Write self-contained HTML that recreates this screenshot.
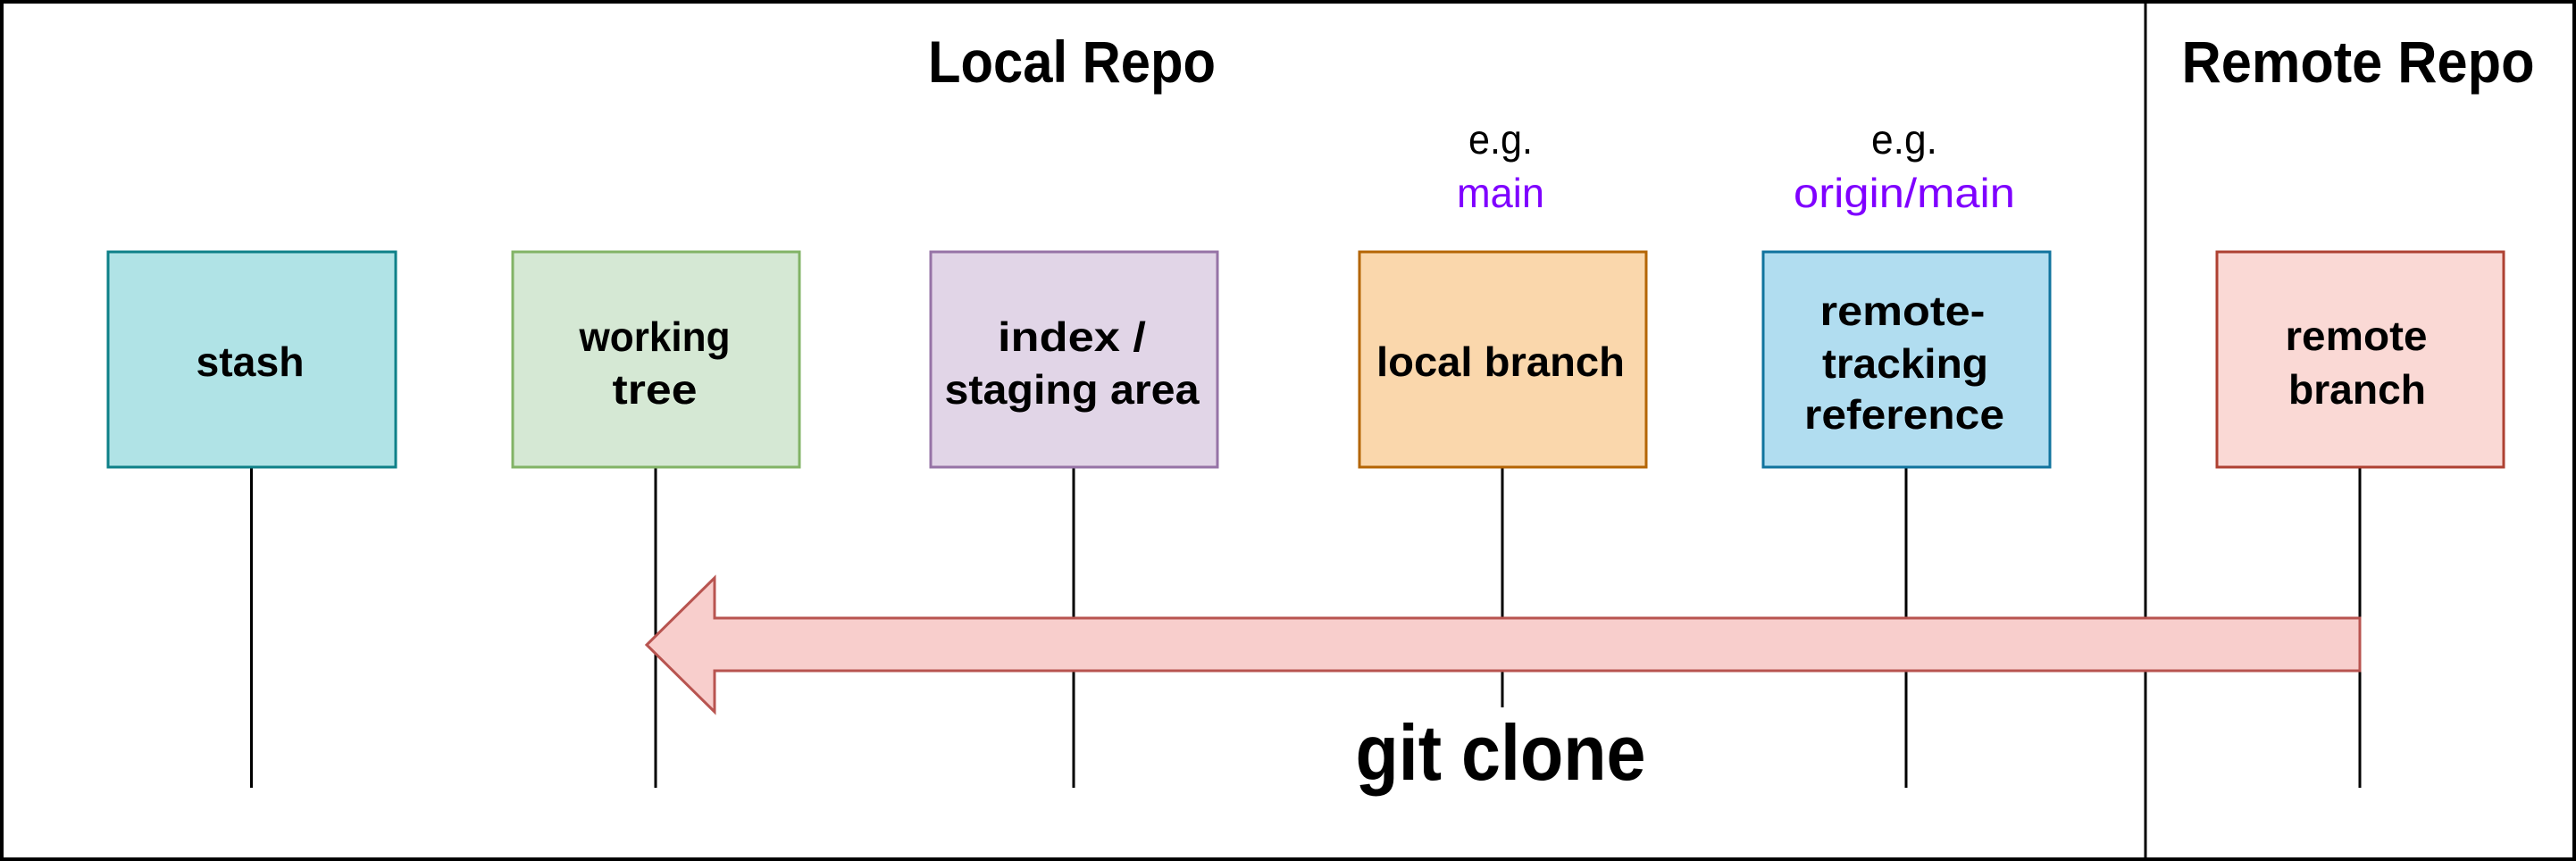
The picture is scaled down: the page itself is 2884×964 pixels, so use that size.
<!DOCTYPE html>
<html><head><meta charset="utf-8"><style>html,body{margin:0;padding:0;background:#fff}svg{display:block}</style></head>
<body>
<svg width="2884" height="964" viewBox="0 0 2884 964" xmlns="http://www.w3.org/2000/svg" font-family="'Liberation Sans', sans-serif" font-weight="bold">
<rect x="2" y="2" width="2880" height="960" fill="#fff" stroke="#000" stroke-width="4"/>
<line x1="2402" y1="0" x2="2402" y2="964" stroke="#000" stroke-width="3"/>
<g stroke="#000" stroke-width="3">
<line x1="281.5" y1="523" x2="281.5" y2="882"/>
<line x1="734" y1="523" x2="734" y2="882"/>
<line x1="1202" y1="523" x2="1202" y2="882"/>
<line x1="1682" y1="523" x2="1682" y2="792"/>
<line x1="2134" y1="523" x2="2134" y2="882"/>
<line x1="2642" y1="523" x2="2642" y2="882"/>
</g>
<rect x="121" y="282" width="322" height="241" fill="#b0e3e6" stroke="#0e8088" stroke-width="3"/>
<rect x="574" y="282" width="321" height="241" fill="#d5e8d4" stroke="#82b366" stroke-width="3"/>
<rect x="1042" y="282" width="321" height="241" fill="#e1d5e7" stroke="#9673a6" stroke-width="3"/>
<rect x="1522" y="282" width="321" height="241" fill="#fad7ac" stroke="#b46504" stroke-width="3"/>
<rect x="1974" y="282" width="321" height="241" fill="#b1ddf0" stroke="#10739e" stroke-width="3"/>
<rect x="2482" y="282" width="321" height="241" fill="#fad9d5" stroke="#ae4132" stroke-width="3"/>
<polygon points="2642,692 800,692 800,647 724,722 800,797 800,751 2642,751" fill="#f8cecc" stroke="#b85450" stroke-width="3"/>
<g font-size="46" text-anchor="middle" fill="#000">
<text x="280" y="421" textLength="121" lengthAdjust="spacingAndGlyphs">stash</text>
<text x="733" y="393" textLength="169" lengthAdjust="spacingAndGlyphs">working</text>
<text x="733" y="452" textLength="95" lengthAdjust="spacingAndGlyphs">tree</text>
<text x="1200" y="393" textLength="166" lengthAdjust="spacingAndGlyphs">index /</text>
<text x="1200" y="452" textLength="285" lengthAdjust="spacingAndGlyphs">staging area</text>
<text x="1680" y="421" textLength="278" lengthAdjust="spacingAndGlyphs">local branch</text>
<text x="2130" y="364" textLength="185" lengthAdjust="spacingAndGlyphs">remote-</text>
<text x="2133" y="423" textLength="186" lengthAdjust="spacingAndGlyphs">tracking</text>
<text x="2132" y="480" textLength="224" lengthAdjust="spacingAndGlyphs">reference</text>
<text x="2638" y="392" textLength="159" lengthAdjust="spacingAndGlyphs">remote</text>
<text x="2639" y="452" textLength="154" lengthAdjust="spacingAndGlyphs">branch</text>
</g>
<g font-size="46" text-anchor="middle" font-weight="normal">
<text x="1680" y="172" textLength="72" lengthAdjust="spacingAndGlyphs">e.g.</text>
<text x="1680" y="232" fill="#7f00ff" textLength="98" lengthAdjust="spacingAndGlyphs">main</text>
<text x="2132" y="172" textLength="74" lengthAdjust="spacingAndGlyphs">e.g.</text>
<text x="2132" y="232" fill="#7f00ff" textLength="248" lengthAdjust="spacingAndGlyphs">origin/main</text>
</g>
<text x="1200" y="92" font-size="66" text-anchor="middle" textLength="322" lengthAdjust="spacingAndGlyphs">Local Repo</text>
<text x="2640" y="92" font-size="66" text-anchor="middle" textLength="395" lengthAdjust="spacingAndGlyphs">Remote Repo</text>
<text x="1680" y="873" font-size="88" text-anchor="middle" textLength="325" lengthAdjust="spacingAndGlyphs">git clone</text>
</svg>
</body></html>
